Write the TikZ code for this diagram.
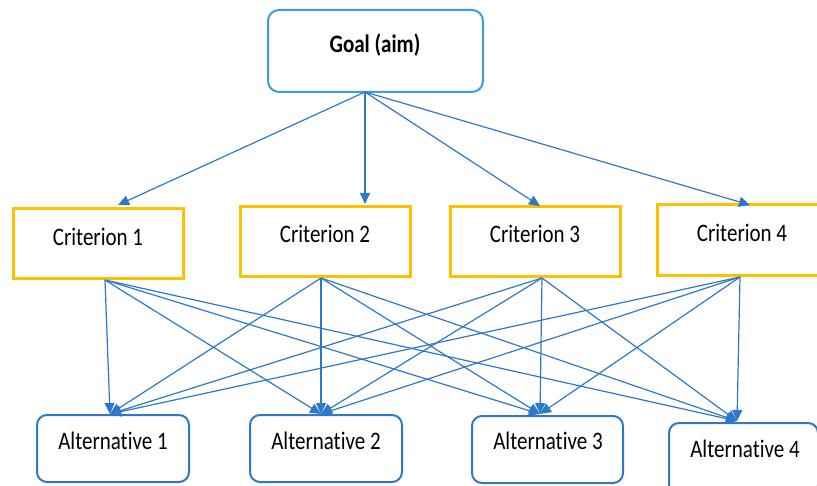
\documentclass[tikz,border=0pt]{standalone}
\usepackage{fontspec}
\setmainfont[Ligatures=NoCommon]{Carlito}
\usetikzlibrary{arrows.meta}
\definecolor{lineblue}{HTML}{2E78C9}
\definecolor{goalblue}{HTML}{3D9CE0}
\definecolor{altblue}{HTML}{2F77C8}
\definecolor{critgold}{HTML}{FFC000}
\newcommand{\vtxt}[1]{\scalebox{1}[1.2]{#1}}
\begin{document}
\begin{tikzpicture}[x=1pt,y=-1pt,
  goalbox/.style={draw=goalblue,line width=2pt,rounded corners=11pt,fill=white},
  critbox/.style={draw=critgold,line width=3pt,fill=white},
  altbox/.style={draw=altblue,line width=2pt,rounded corners=10pt,fill=white},
  lbl/.style={font=\fontsize{21}{24}\selectfont,inner sep=0pt,text=black},
  conn/.style={draw=lineblue,line width=1.2pt,-{Triangle[length=11pt,width=10pt]},color=lineblue}]
\useasboundingbox (0,0) rectangle (817,486);
% boxes
\draw[goalbox] (268,10) rectangle (483,92);
\node[lbl,font=\fontsize{21}{24}\selectfont\bfseries] (goal) at (375,45) {\vtxt{Goal (aim)}};
\draw[critbox] (13,209) rectangle (183,279);
\node[lbl] (c1) at (98,237) {\vtxt{Criterion 1}};
\draw[critbox] (240,207) rectangle (410,277);
\node[lbl] (c2) at (325,234) {\vtxt{Criterion 2}};
\draw[critbox] (450,207) rectangle (620,277);
\node[lbl] (c3) at (535,234) {\vtxt{Criterion 3}};
\draw[critbox] (657,205) rectangle (818,276);
\node[lbl] (c4) at (742,233) {\vtxt{Criterion 4}};
\draw[altbox] (37,415) rectangle (189,482);
\node[lbl] (a1) at (113,441) {\vtxt{Alternative 1}};
\draw[altbox] (250,415) rectangle (402,482);
\node[lbl] (a2) at (326,441) {\vtxt{Alternative 2}};
\draw[altbox] (472,416) rectangle (623,483);
\node[lbl] (a3) at (548,441) {\vtxt{Alternative 3}};
\draw[altbox] (669,423) rectangle (818,495);
\node[lbl] (a4) at (745,449) {\vtxt{Alternative 4}};
% ports
\coordinate (gp) at (365,92);
\coordinate (t1) at (118,205);
\coordinate (t2) at (365,204);
\coordinate (t3) at (540,206);
\coordinate (t4) at (750,205);
\coordinate (p1) at (105,280);
\coordinate (p2) at (321,278);
\coordinate (p3) at (542,278);
\coordinate (p4) at (740,277);
\coordinate (q1) at (110,414);
\coordinate (q2) at (321,414);
\coordinate (q3) at (540,414);
\coordinate (q4) at (737,421);
% connectors
\foreach \t in {t1,t2,t3,t4} \draw[conn] (gp) -- (\t);
\foreach \p in {p1,p2,p3,p4}
  \foreach \q in {q1,q2,q3,q4}
    \draw[conn] (\p) -- (\q);
\end{tikzpicture}
\end{document}
